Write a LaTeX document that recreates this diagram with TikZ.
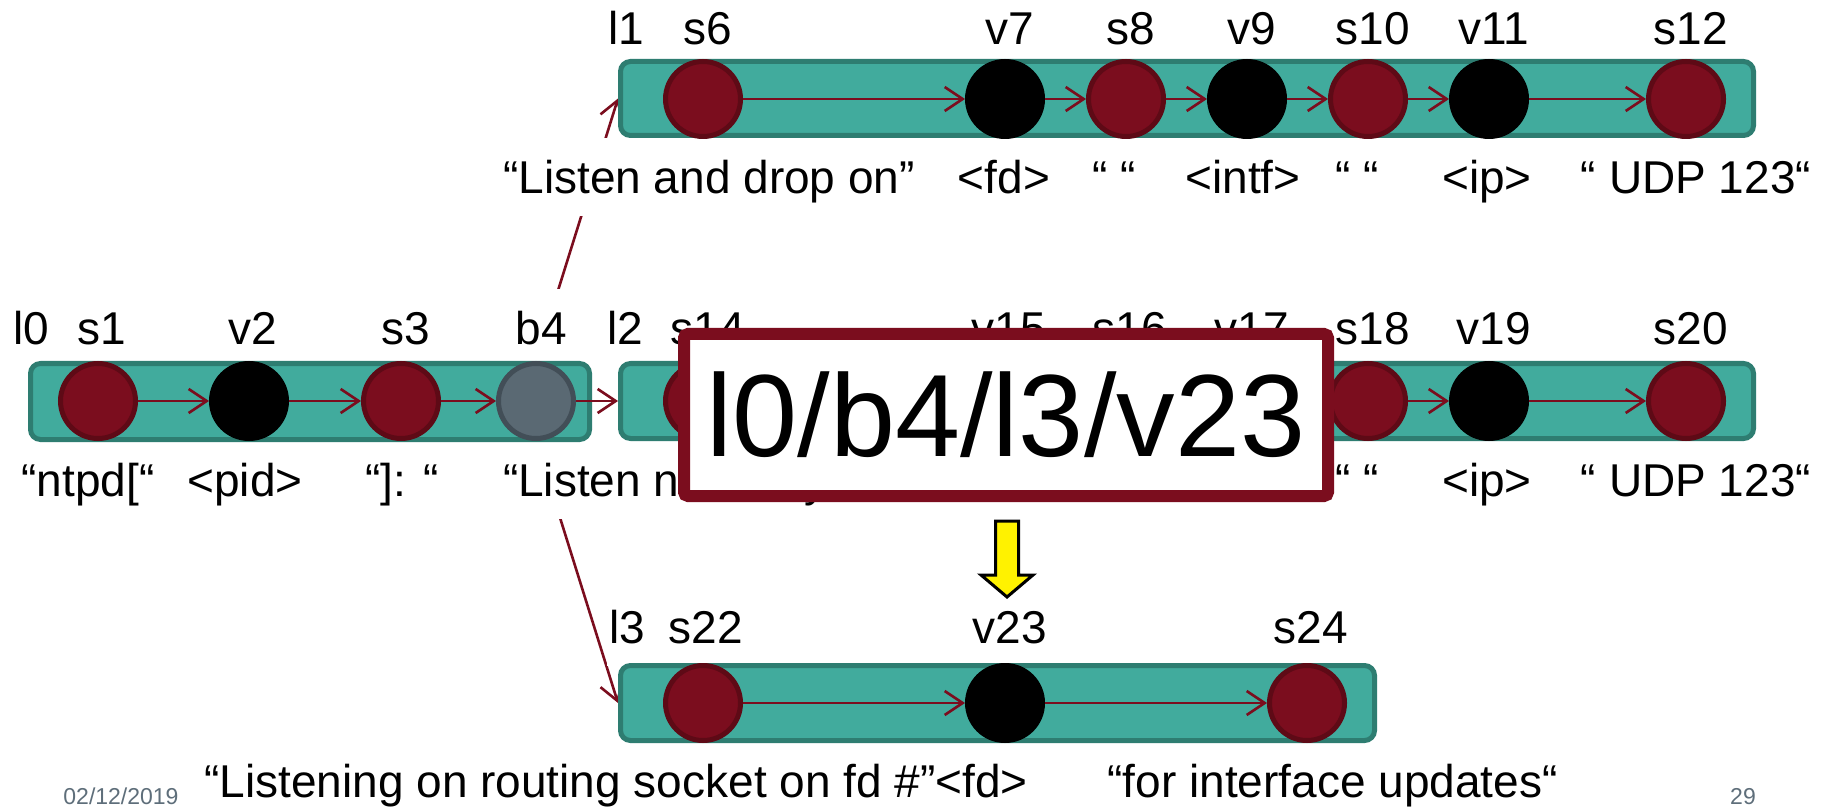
\documentclass[tikz,border=0pt]{standalone}
\usepackage{fontspec}
\setmainfont{Liberation Sans}
\usetikzlibrary{arrows.meta,calc}

\definecolor{barfill}{RGB}{65,171,157}
\definecolor{barline}{RGB}{46,125,113}
\definecolor{strfill}{RGB}{123,13,30}
\definecolor{strline}{RGB}{94,10,22}
\definecolor{brfill}{RGB}{90,105,115}
\definecolor{brline}{RGB}{66,78,87}
\definecolor{linkred}{RGB}{123,13,30}
\definecolor{footgray}{RGB}{94,110,122}

\pgfdeclarelayer{paper}
\pgfdeclarelayer{links}
\pgfdeclarelayer{captions}
\pgfsetlayers{paper,links,captions,main}

\begin{document}
\begin{tikzpicture}[x=0.5pt,y=-0.5pt,
  lane/.style={draw=barline, fill=barfill, line width=2.5pt, rounded corners=5pt,
               inner sep=0pt, minimum height=37.5pt},
  strnode/.style={circle, draw=strline, fill=strfill, line width=2.5pt,
                  minimum size=37.5pt, inner sep=0pt},
  varnode/.style={circle, draw=black, fill=black, line width=2.5pt,
                  minimum size=37.5pt, inner sep=0pt},
  brnode/.style={circle, draw=brline, fill=brfill, line width=2.5pt,
                 minimum size=37.5pt, inner sep=0pt},
  flow/.style={draw=linkred, line width=1.3pt, -{Straight Barb[length=9pt,width=12pt]}},
  caption/.style={fill=white, font=\fontsize{23}{27}\selectfont, inner xsep=1pt,
                  inner ysep=0pt, text height=16.5pt, text depth=0pt, minimum height=39pt},
  foot/.style={text=footgray, font=\fontsize{11.5}{13}\selectfont, anchor=base, inner sep=0pt},
]
\useasboundingbox (0,0) rectangle (1829,807);
\begin{pgfonlayer}{paper}
  \fill[white] (0,0) rectangle (1829,807);
\end{pgfonlayer}

% ---- lanes ----
\node[lane, minimum width=566.5pt, minimum height=37pt] (l1bar) at (1187,98.5) {};
\node[lane, minimum width=279.5pt, minimum height=38pt] (l0bar) at (310,401.5) {};
\node[lane, minimum width=566.5pt] (l2bar) at (1187,401) {};
\node[lane, minimum width=377pt] (l3bar) at (997.5,703) {};

% ---- lane l1 ----
\node[strnode] (s6)  at (703,99)  {};
\node[varnode] (v7)  at (1005,99) {};
\node[strnode] (s8)  at (1126,99) {};
\node[varnode] (v9)  at (1247,99) {};
\node[strnode] (s10) at (1368,99) {};
\node[varnode] (v11) at (1489,99) {};
\node[strnode] (s12) at (1686,99) {};

% ---- lane l0 ----
\node[strnode] (s1) at (98,401)  {};
\node[varnode] (v2) at (249,401) {};
\node[strnode] (s3) at (401,401) {};
\node[brnode]  (b4) at (536,401) {};

% ---- lane l2 ----
\node[strnode] (s14) at (703,401)  {};
\node[varnode] (v15) at (1005,401) {};
\node[strnode] (s16) at (1126,401) {};
\node[varnode] (v17) at (1247,401) {};
\node[strnode] (s18) at (1368,401) {};
\node[varnode] (v19) at (1489,401) {};
\node[strnode] (s20) at (1686,401) {};

% ---- lane l3 ----
\node[strnode] (s22) at (703,703)  {};
\node[varnode] (v23) at (1005,703) {};
\node[strnode] (s24) at (1307,703) {};

% ---- transitions inside lanes ----
\foreach \a/\b in {s1/v2, v2/s3, s3/b4,
                   s6/v7, v7/s8, s8/v9, v9/s10, s10/v11, v11/s12,
                   s14/v15, v15/s16, s16/v17, v17/s18, s18/v19, v19/s20,
                   s22/v23, v23/s24}
  \draw[flow] (\a) -- (\b);
\draw[flow] (b4.east) -- (l2bar.west);

% ---- branch links (partly hidden behind the captions) ----
\begin{pgfonlayer}{links}
  \draw[flow] (b4.north) -- (l1bar.west);
  \draw[flow] (b4.south) -- (l3bar.west);
\end{pgfonlayer}

% ---- captions ----
\begin{pgfonlayer}{captions}
  % names above lane l1
  \node[caption] (t-l1)  at (626,28)  {l1};
  \node[caption] (t-s6)  at (708,28)  {s6};
  \node[caption] (t-v7)  at (1010,28) {v7};
  \node[caption] (t-s8)  at (1131,28) {s8};
  \node[caption] (t-v9)  at (1252,28) {v9};
  \node[caption] (t-s10) at (1373,28) {s10};
  \node[caption] (t-v11) at (1494,28) {v11};
  \node[caption] (t-s12) at (1691,28) {s12};
  % values below lane l1
  \node[caption] (b-s6)  at (709,177)  {“Listen and drop on”};
  \node[caption] (b-v7)  at (1004,177) {<fd>};
  \node[caption] (b-s8)  at (1114,177) {“ “};
  \node[caption] (b-v9)  at (1243,177) {<intf>};
  \node[caption] (b-s10) at (1357,177) {“ “};
  \node[caption] (b-v11) at (1487,177) {<ip>};
  \node[caption] (b-s12) at (1696,177) {“ UDP 123“};
  % names above lanes l0 and l2
  \node[caption] (t-l0)  at (31,328)   {l0};
  \node[caption] (t-s1)  at (102,328)  {s1};
  \node[caption] (t-v2)  at (253,328)  {v2};
  \node[caption] (t-s3)  at (406,328)  {s3};
  \node[caption] (t-b4)  at (541,328)  {b4};
  \node[caption] (t-l2)  at (625,328)  {l2};
  \node[caption] (t-s14) at (708,328)  {s14};
  \node[caption] (t-v15) at (1009,328) {v15};
  \node[caption] (t-s16) at (1130,328) {s16};
  \node[caption] (t-v17) at (1252,328) {v17};
  \node[caption] (t-s18) at (1373,328) {s18};
  \node[caption] (t-v19) at (1494,328) {v19};
  \node[caption] (t-s20) at (1691,328) {s20};
  % values below lanes l0 and l2
  \node[caption] (b-s1)  at (88,480)   {“ntpd[“};
  \node[caption] (b-v2)  at (245,480)  {<pid>};
  \node[caption] (b-s3)  at (402,480)  {“]: “};
  \node[caption] (b-s14) at (705,480)  {“Listen normally on”};
  \node[caption] (b-s18) at (1357,480) {“ “};
  \node[caption] (b-v19) at (1487,480) {<ip>};
  \node[caption] (b-s20) at (1696,480) {“ UDP 123“};
  % names above lane l3
  \node[caption] (t-l3)  at (627,627)  {l3};
  \node[caption] (t-s22) at (706,627)  {s22};
  \node[caption] (t-v23) at (1010,627) {v23};
  \node[caption] (t-s24) at (1311,627) {s24};
  % values below lane l3
  \node[caption, anchor=west] (b-s22) at (202,781) {“Listening on routing socket on fd \#”<fd>};
  \node[caption, anchor=east] (b-s24) at (1560,781) {“for interface updates“};
\end{pgfonlayer}

% ---- path of the selected field ----
\node[draw=linkred, fill=white, line width=6pt, rounded corners=2pt,
      minimum width=322pt, minimum height=81pt, inner sep=0pt,
      font=\fontsize{58.5}{60}\selectfont] (pathbox) at (1006,415) {l0/b4/l3/v23};

% block arrow pointing down to v23
\draw[fill=yellow, line width=1.5pt]
  (995.5,521) -- (1018.5,521) -- (1018.5,575) -- (1033,575) -- (1007,597)
  -- (981,575) -- (995.5,575) -- cycle;

% ---- footer ----
\node[foot] (date) at (121,804) {02/12/2019};
\node[foot] (page) at (1743,804) {29};
\end{tikzpicture}
\end{document}
